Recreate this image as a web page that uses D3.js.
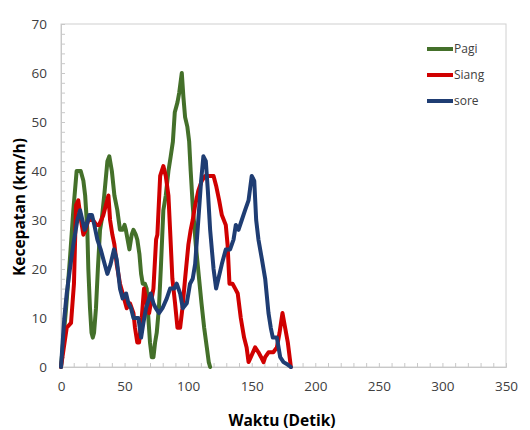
<!DOCTYPE html>
<html><head><meta charset="utf-8">
<script src="https://cdn.jsdelivr.net/npm/d3@7"></script>
<style>body{margin:0;background:#fff}svg{display:block}</style>
</head><body><svg id="c" width="530" height="430"></svg>
<script>
const seriesNames = ["Pagi", "Siang", "sore"];
const seriesColors = ["#44702a", "#d00000", "#1f3d73"];
const pagiTime  = [0,4,7,9.7,12.3,15.5,17.6,19,20.7,21.5,22.8,24,25,26,27.5,29,30.7,32,34,36.5,38,40,42,44.3,46.4,48.5,50,51,53.8,55.6,57,58.8,60,61.7,63,64.3,66,67.4,68.7,70,71.4,72.7,74,75.3,77,78.5,80.5,82.4,84.5,86.3,88,89.5,91.6,93,95,96.3,97.6,99.4,100.8,102,103.6,106,108.6,110.5,112.6,114.7,116.2,117.3];
const pagiSpeed = [0,12,22,32,40,40,38,35,28,20,12,7,6,7,12,20,28,30,35,42,43,40,35,32,28,28,29,28,24,27,28,27,26,23,19,17,17,16,10,5,2,2,5,7,12,20,32,35,40,43,46,52,54,56,60,55,51,49,46,40,33,25,18,13,8,4,1,0];
const siangTime  = [0,4.5,7.9,10.2,11.8,13.6,15.7,17.6,19.4,21.5,25,28,30,33.3,37.3,38.6,40.4,42,43.8,46.4,49.6,51.7,54.3,57,58.2,60,61.4,63.5,65.3,67.4,69.3,70.6,72.7,74.8,75.8,78,80.5,82.4,84.5,85.8,87.6,89.7,91.6,93.7,95.5,97.6,100.2,102,103.6,105.5,108,110.7,113.4,120,122,124.4,126.5,129.6,131,132.5,134.9,137,139,141.4,144,146,147.5,149.3,152.7,155.3,157.4,159.3,160.6,163.2,167,169.8,171.9,174.2,176.3,178.4,180.8];
const siangSpeed = [0,8,9,17,33,34,30,27,28,30,30,29,29,31,35,30,27,25,21,17,14,12,13,11,8,5,5,10,16,13,11,13,16,26,27,39,41,39,35,28,18,13,8,8,12,18,25,28,30,33,36,38,39,39,37,34,31,29,25,17,17,16,15,10,6,4,1,2,4,3,2,1,2,3,3,4,7,11,8,5,0];
const soreTime  = [0,2.6,4.5,7,9.7,12.9,15,16.8,18.6,20.2,22.3,24.4,26.2,28.6,31.2,33.3,35.4,36.5,39,41.7,43.8,46.4,48.5,51.2,53,55.1,57,60.9,63,64.8,66.9,69.3,70.6,72.7,74.5,77.1,79.8,83.2,85.8,89,91,93.7,95.8,98.9,101.5,103.6,105.5,108,110.2,112,113.9,115.5,117.3,120,122,123.8,126.5,129.6,133,135.7,137.5,139.6,142.2,144.8,147.5,150,152,153.5,155.3,158,160.6,163.2,165,166.6,169.8,172.4,175,178.2,180.8];
const soreSpeed = [0,10,15,20,25,30,32,30,28,29,31,31,29,26,24,22,20,19,21,24,22,16,14,15,13,12,10,10,6,9,12,14,15,13,12,11,12,14,16,16,17,15,12,13,17,18,21,30,38,43,42,36,28,20,16,18,21,24,24,26,29,28,30,32,34,39,38,30,26,22,18,11,8,6,6,2,1,0.5,0];
const xTicks = [0,50,100,150,200,250,300,350];
const yTicks = [0,10,20,30,40,50,60,70];

const svg = d3.select("#c");
const m = {l:61, r:24, t:24, b:63};
const W = 530, H = 430;
const x = d3.scaleLinear().domain([0,350]).range([m.l, W-m.r]);
const y = d3.scaleLinear().domain([0,70]).range([H-m.b, m.t]);
const font = "'Open Sans', sans-serif";
const grey = "#d0d0d0";

// plot border
svg.append("rect").attr("x", x(0)).attr("y", y(70)).attr("width", x(350)-x(0)).attr("height", y(0)-y(70))
  .attr("fill","none").attr("stroke", grey).attr("stroke-width",1);

// minor inward ticks
const gx = svg.append("g").attr("transform", `translate(0,${y(0)})`)
  .call(d3.axisBottom(x).tickValues(d3.range(0,351,10)).tickSize(-4).tickFormat(""));
const gy = svg.append("g").attr("transform", `translate(${x(0)},0)`)
  .call(d3.axisLeft(y).tickValues(d3.range(0,71,2)).tickSize(-4).tickFormat(""));
[gx,gy].forEach(g=>{g.selectAll("path,line").attr("stroke","#c8c8c8");});

// tick labels via axes
const lx = svg.append("g").attr("transform", `translate(0,${y(0)})`)
  .call(d3.axisBottom(x).tickValues(xTicks).tickSize(0).tickPadding(14).tickFormat(d3.format("d")));
const ly = svg.append("g").attr("transform", `translate(${x(0)},0)`)
  .call(d3.axisLeft(y).tickValues(yTicks).tickSize(0).tickPadding(14).tickFormat(d3.format("d")));
[lx,ly].forEach(g=>{g.select(".domain").remove();
  g.selectAll("text").attr("fill","#404040").style("font-family",font).style("font-size","13.5px");});

// lines
const allT = [pagiTime, siangTime, soreTime];
const allV = [pagiSpeed, siangSpeed, soreSpeed];
const line = d3.line().x(d=>x(d[0])).y(d=>y(d[1])).curve(d3.curveLinear);
allT.forEach((ts,i)=>{
  const pts = ts.map((t,j)=>[t, allV[i][j]]);
  svg.append("path").datum(pts).attr("d", line).attr("fill","none")
    .attr("stroke", seriesColors[i]).attr("stroke-width",4)
    .attr("stroke-linejoin","round").attr("stroke-linecap","round");
});

// legend
seriesNames.forEach((n,i)=>{
  const yy = 49 + i*26;
  svg.append("line").attr("x1",427).attr("x2",453).attr("y1",yy).attr("y2",yy)
    .attr("stroke",seriesColors[i]).attr("stroke-width",4);
  svg.append("text").attr("x",454).attr("y",yy).attr("dy","0.35em").text(n)
    .attr("fill","#404040").style("font-family",font).style("font-size","12px");
});

// axis titles
svg.append("text").attr("x", 282).attr("y", 421).attr("dy","0.35em").attr("text-anchor","middle")
  .text("Waktu (Detik)").attr("fill","#000").style("font-family",font).style("font-size","15.5px").style("font-weight","bold");
svg.append("text").attr("transform","translate(20,207) rotate(-90)").attr("dy","0.35em").attr("text-anchor","middle")
  .text("Kecepatan (km/h)").attr("fill","#000").style("font-family",font).style("font-size","15.5px").style("font-weight","bold");
</script></body></html>
